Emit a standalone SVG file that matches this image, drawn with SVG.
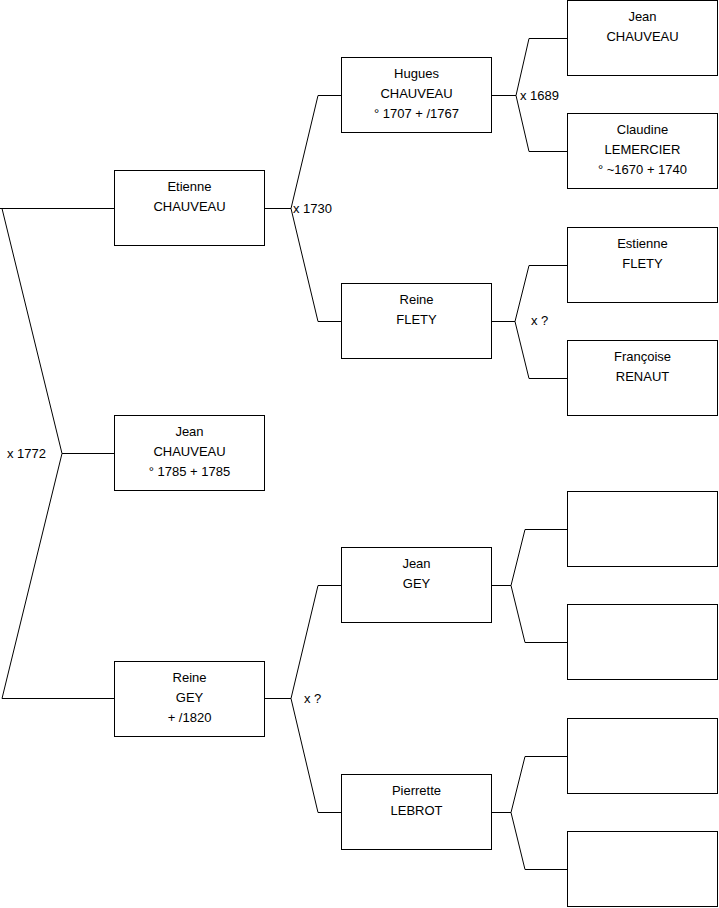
<svg xmlns="http://www.w3.org/2000/svg" width="719" height="908" viewBox="0 0 719 908">
<style>
rect{fill:#fff;stroke:#000;stroke-width:1}
.c path{fill:none;stroke:#000;stroke-width:1}
text{font-family:"Liberation Sans",Arial,sans-serif;font-size:13px;fill:#000}
.m{text-anchor:middle}
</style>
<rect x="0" y="0" width="719" height="908" style="stroke:none"/>
<g class="c" id="connectors">
<path d="M0,208.5H114 M2,208.5L62,453.5L2,698.5H114 M62,453.5H114"/>
<path d="M265,208.5H291 M318,95.5L291,208.5L318,321.5 M318,95.5H341 M318,321.5H341"/>
<path d="M265,698.5H291 M318,585.5L291,698.5L318,812.5 M318,585.5H341 M318,812.5H341"/>
<path d="M492,95.5H516 M529,38.5L516,95.5L529,151.5 M529,38.5H567 M529,151.5H567"/>
<path d="M492,321.5H515 M529,265.5L515,321.5L529,378.5 M529,265.5H567 M529,378.5H567"/>
<path d="M492,585.5H511 M525,529.5L511,585.5L525,642.5 M525,529.5H567 M525,642.5H567"/>
<path d="M492,812.5H511 M525,756.5L511,812.5L525,869.5 M525,756.5H567 M525,869.5H567"/>
<text x="7" y="458">x 1772</text>
<text x="293" y="212.5">x 1730</text>
<text x="520" y="99.5">x 1689</text>
<text x="531" y="325">x ?</text>
<text x="304" y="702.5">x ?</text>
</g>
<g id="etienne"><rect x="114.5" y="170.5" width="150" height="75"/><text class="m" x="189.5" y="190.5">Etienne</text><text class="m" x="189.5" y="210.5">CHAUVEAU</text></g>
<g id="jean"><rect x="114.5" y="415.5" width="150" height="75"/><text class="m" x="189.5" y="435.5">Jean</text><text class="m" x="189.5" y="455.5">CHAUVEAU</text><text class="m" x="189.5" y="475.5">° 1785 + 1785</text></g>
<g id="reinegey"><rect x="114.5" y="661.5" width="150" height="75"/><text class="m" x="189.5" y="681.5">Reine</text><text class="m" x="189.5" y="701.5">GEY</text><text class="m" x="189.5" y="721.5">+ /1820</text></g>
<g id="hugues"><rect x="341.5" y="57.5" width="150" height="75"/><text class="m" x="416.5" y="77.5">Hugues</text><text class="m" x="416.5" y="97.5">CHAUVEAU</text><text class="m" x="416.5" y="117.5">° 1707 + /1767</text></g>
<g id="reineflety"><rect x="341.5" y="283.5" width="150" height="75"/><text class="m" x="416.5" y="303.5">Reine</text><text class="m" x="416.5" y="323.5">FLETY</text></g>
<g id="jeangey"><rect x="341.5" y="547.5" width="150" height="75"/><text class="m" x="416.5" y="567.5">Jean</text><text class="m" x="416.5" y="587.5">GEY</text></g>
<g id="pierrette"><rect x="341.5" y="774.5" width="150" height="75"/><text class="m" x="416.5" y="794.5">Pierrette</text><text class="m" x="416.5" y="814.5">LEBROT</text></g>
<g id="jeanchauveau"><rect x="567.5" y="0.5" width="150" height="75"/><text class="m" x="642.5" y="20.5">Jean</text><text class="m" x="642.5" y="40.5">CHAUVEAU</text></g>
<g id="claudine"><rect x="567.5" y="113.5" width="150" height="75"/><text class="m" x="642.5" y="133.5">Claudine</text><text class="m" x="642.5" y="153.5">LEMERCIER</text><text class="m" x="642.5" y="173.5">° ~1670 + 1740</text></g>
<g id="estienne"><rect x="567.5" y="227.5" width="150" height="75"/><text class="m" x="642.5" y="247.5">Estienne</text><text class="m" x="642.5" y="267.5">FLETY</text></g>
<g id="francoise"><rect x="567.5" y="340.5" width="150" height="75"/><text class="m" x="642.5" y="360.5">Françoise</text><text class="m" x="642.5" y="380.5">RENAUT</text></g>
<g id="empty1"><rect x="567.5" y="491.5" width="150" height="75"/></g>
<g id="empty2"><rect x="567.5" y="604.5" width="150" height="75"/></g>
<g id="empty3"><rect x="567.5" y="718.5" width="150" height="75"/></g>
<g id="empty4"><rect x="567.5" y="831.5" width="150" height="75"/></g>
</svg>
